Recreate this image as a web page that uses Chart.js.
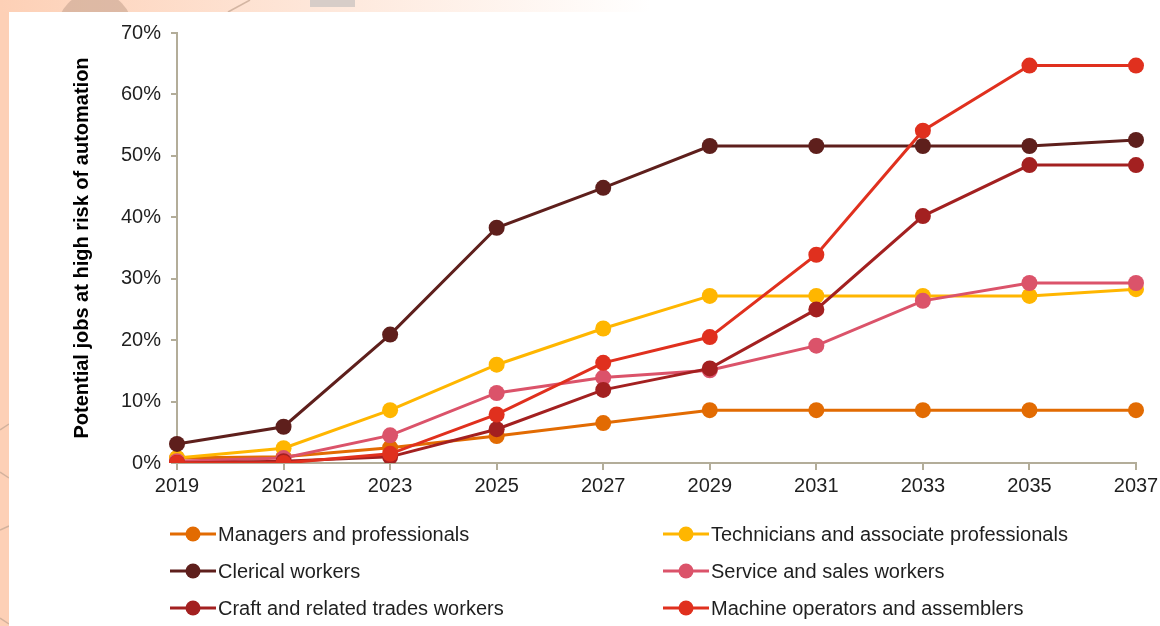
<!DOCTYPE html>
<html>
<head>
<meta charset="utf-8">
<script src="https://cdn.jsdelivr.net/npm/chart.js@4.4.1/dist/chart.umd.min.js"></script>
<style>
  html, body { margin: 0; padding: 0; background: #fdd3bb; }
  #wrap { width: 1160px; height: 626px; position: relative; }
  canvas { display: block; }
</style>
</head>
<body>
<div id="wrap"><canvas id="c" width="1160" height="626"></canvas></div>
<script>
const years = ['2019','2021','2023','2025','2027','2029','2031','2033','2035','2037'];
const seriesNames = [
  'Managers and professionals',
  'Technicians and associate professionals',
  'Clerical workers',
  'Service and sales workers',
  'Craft and related trades workers',
  'Machine operators and assemblers'
];
const managers    = [0.8, 1.0, 2.5, 4.4, 6.5, 8.6, 8.6, 8.6, 8.6, 8.6];
const technicians = [0.8, 2.4, 8.6, 16.0, 21.9, 27.2, 27.2, 27.2, 27.2, 28.3];
const clerical    = [3.1, 5.9, 20.9, 38.3, 44.8, 51.6, 51.6, 51.6, 51.6, 52.6];
const service     = [0.3, 0.8, 4.5, 11.4, 13.9, 15.1, 19.1, 26.4, 29.3, 29.3];
const craft       = [0.0, 0.3, 1.0, 5.5, 11.9, 15.4, 25.0, 40.2, 48.5, 48.5];
const machine     = [0.0, 0.0, 1.5, 7.9, 16.3, 20.5, 33.9, 54.1, 64.7, 64.7];
const yTicks = [0, 10, 20, 30, 40, 50, 60, 70];
const yTitle = 'Potential jobs at high risk of automation';

const seriesValues = [managers, technicians, clerical, service, craft, machine];
const colors = ['#e26b02', '#ffb600', '#5e1f1c', '#db536a', '#a32020', '#e0301e'];
const axisColor = '#b3ad99';
const FONT = '"Liberation Sans", Arial, sans-serif';

const datasets = seriesValues.map((vals, i) => ({
  label: seriesNames[i],
  data: vals,
  borderColor: colors[i],
  backgroundColor: colors[i],
  pointBackgroundColor: colors[i],
  pointBorderColor: colors[i],
  borderWidth: 3,
  pointRadius: 8,
  pointBorderWidth: 0,
  tension: 0,
  order: seriesValues.length - i
}));

const bgPlugin = {
  id: 'bg',
  beforeDraw(chart) {
    const ctx = chart.ctx;
    ctx.save();
    ctx.fillStyle = '#fdd0b6';
    ctx.fillRect(0, 0, 1160, 626);
    const g = ctx.createLinearGradient(0, 0, 650, 0);
    g.addColorStop(0, 'rgba(253,208,182,1)');
    g.addColorStop(1, 'rgba(255,255,255,1)');
    ctx.fillStyle = g;
    ctx.fillRect(0, 0, 1160, 12);
    ctx.fillStyle = '#ffffff';
    ctx.fillRect(650, 0, 510, 12);
    // decorative shapes in top strip
    ctx.fillStyle = 'rgba(200,165,145,0.6)';
    ctx.beginPath(); ctx.arc(95, 30, 38, Math.PI, 2 * Math.PI); ctx.fill();
    ctx.fillStyle = 'rgba(215,205,200,1)';
    ctx.fillRect(310, 0, 45, 7);
    ctx.strokeStyle = 'rgba(200,170,150,0.8)';
    ctx.lineWidth = 1.5;
    ctx.beginPath(); ctx.moveTo(228, 12); ctx.lineTo(250, 0); ctx.stroke();
    ctx.beginPath(); ctx.moveTo(0, 430); ctx.lineTo(9, 424); ctx.stroke();
    ctx.beginPath(); ctx.moveTo(0, 472); ctx.lineTo(9, 478); ctx.stroke();
    ctx.beginPath(); ctx.moveTo(0, 530); ctx.lineTo(9, 526); ctx.stroke();
    ctx.beginPath(); ctx.moveTo(0, 618); ctx.lineTo(9, 624); ctx.stroke();
    // white panel
    ctx.fillStyle = '#ffffff';
    ctx.fillRect(9, 12, 1151, 614);
    ctx.restore();
  },
  afterDraw(chart) {
    const ctx = chart.ctx;
    ctx.save();
    const colX = [170, 663];
    const rowY = [534, 571, 608];
    chart.data.datasets.forEach((ds, i) => {
      const x = colX[i % 2];
      const y = rowY[Math.floor(i / 2)];
      ctx.strokeStyle = ds.borderColor;
      ctx.lineWidth = 3;
      ctx.beginPath(); ctx.moveTo(x, y); ctx.lineTo(x + 46, y); ctx.stroke();
      ctx.fillStyle = ds.borderColor;
      ctx.beginPath(); ctx.arc(x + 23, y, 7.5, 0, 2 * Math.PI); ctx.fill();
      ctx.fillStyle = '#1f1f1f';
      ctx.font = '20px ' + FONT;
      ctx.textBaseline = 'middle';
      ctx.textAlign = 'left';
      ctx.fillText(ds.label, x + 48, y + 1);
    });
    ctx.restore();
  }
};

new Chart(document.getElementById('c'), {
  type: 'line',
  data: { labels: years, datasets },
  plugins: [bgPlugin],
  options: {
    responsive: false,
    animation: false,
    devicePixelRatio: 1,
    layout: { padding: { left: 0, right: 24, top: 33, bottom: 0 } },
    plugins: {
      legend: { display: false },
      tooltip: { enabled: false }
    },
    scales: {
      x: {
        type: 'category',
        offset: false,
        afterFit(scale) { scale.height = 163; scale.paddingRight = 0; scale.paddingLeft = 0; },
        grid: { drawOnChartArea: false, drawTicks: true, tickLength: 7, color: axisColor, lineWidth: 2 },
        border: { color: axisColor, width: 2 },
        ticks: { color: '#1f1f1f', font: { family: FONT, size: 20 }, padding: 4, maxRotation: 0, autoSkip: false }
      },
      y: {
        min: 0,
        max: 70,
        afterFit(scale) { scale.width = 177; },
        afterBuildTicks(scale) { scale.ticks = yTicks.map(v => ({ value: v })); },
        grid: { drawOnChartArea: false, drawTicks: true, tickLength: 6, color: axisColor, lineWidth: 2 },
        border: { color: axisColor, width: 2 },
        ticks: {
          color: '#1f1f1f',
          font: { family: FONT, size: 20 },
          padding: 10,
          callback: v => v + '%'
        },
        title: {
          display: true,
          text: yTitle,
          color: '#000000',
          font: { family: FONT, size: 20, weight: 'bold' },
          padding: { top: 70, bottom: 0 }
        }
      }
    }
  }
});
</script>
</body>
</html>
